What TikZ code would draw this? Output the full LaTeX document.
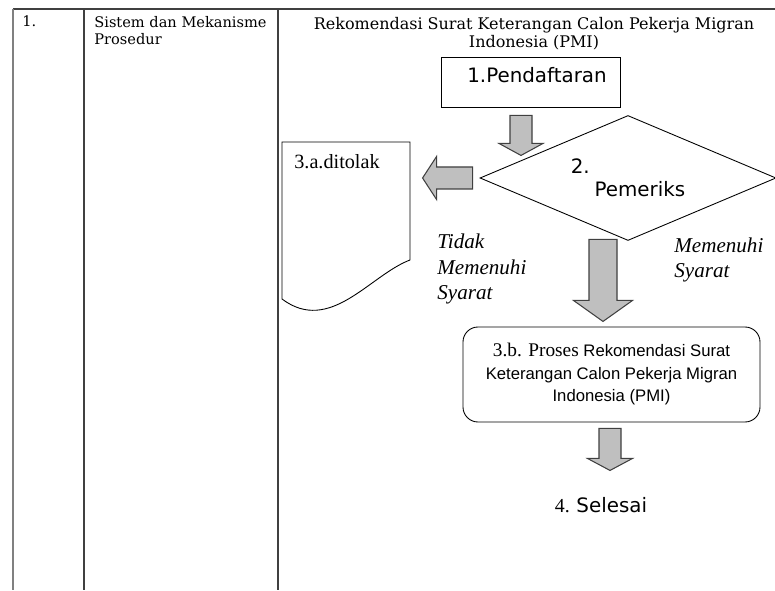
\documentclass[tikz,border=0pt]{standalone}
\usepackage{fontspec}
\newfontfamily\bookfont{DejaVu Serif}
\newfontfamily\dvsans{DejaVu Sans}
\newfontfamily\arialfont{Liberation Sans}
\newfontfamily\timesfont{Liberation Serif}
\usetikzlibrary{shapes.geometric}

\begin{document}
\begin{tikzpicture}[
    tableline/.style={draw=black!75, line width=0.8pt},
    blockarrow/.style={draw=black!75, fill=black!25, line width=0.6pt},
    proc/.style={rectangle, draw=black, line width=0.5pt}
]
	\pgfmathsetmacro{\xone}{0.26}
	\pgfmathsetmacro{\xtwo}{1.68}
	\pgfmathsetmacro{\xthree}{5.56}
	\pgfmathsetmacro{\ytop}{11.62}

    \useasboundingbox (0,0) rectangle (15.5,11.8);

    %table lines
    \draw[tableline] (\xone,\ytop)--(15.5,\ytop);
    \draw[tableline, draw=black!50] (\xone,\ytop)--(\xone,0);
    \draw[tableline] (\xtwo,\ytop)--(\xtwo,0);
    \draw[tableline] (\xthree,\ytop)--(\xthree,0);

    \node[anchor=west, inner sep=0, font=\bookfont\fontsize{8.3}{9.6}\selectfont] (nomor) at (\xone+0.18,11.37) {1.};
    \node[anchor=west, inner sep=0, align=left, font=\bookfont\fontsize{8.3}{9.6}\selectfont] (sistem) at (\xtwo+0.2,11.18) {Sistem dan Mekanisme\\Prosedur};
    \node[inner sep=0, align=center, font=\bookfont\fontsize{9.1}{10.4}\selectfont] (judul) at (10.68,11.13) {Rekomendasi Surat Keterangan Calon Pekerja Migran\\Indonesia (PMI)};

    %flow nodes
    \node[proc, minimum width=3.58cm, minimum height=1cm, text depth=0.3cm, font=\dvsans\fontsize{11.3}{13}\selectfont] (daftar) at (10.61,10.16) {\hspace*{0.26cm}1.Pendaftaran};

    \node[diamond, draw=black, line width=0.5pt, aspect=2.37, minimum width=5.92cm, minimum height=2.5cm, inner sep=0, align=left, font=\dvsans\fontsize{11.3}{13}\selectfont] (periksa) at (12.56,8.24) {2.\\\hspace*{1.2em}Pemeriks};

    \draw[line width=0.5pt] (8.2,6.6) -- (8.2,8.96) -- (5.64,8.96) -- (5.64,5.82) .. controls (6.6,5.1) and (7.4,6.3) .. (8.2,6.6) -- cycle;
    \node[anchor=west, inner sep=0, font=\timesfont\fontsize{11.5}{13}\selectfont] (tolak) at (5.88,8.56) {3.a.ditolak};

    \node[anchor=west, inner sep=0, align=left, font=\timesfont\itshape\fontsize{12}{14.5}\selectfont] (tidak) at (8.74,6.42) {Tidak\\Memenuhi\\Syarat};
    \node[anchor=west, inner sep=0, align=left, font=\timesfont\itshape\fontsize{12}{14.5}\selectfont] (memenuhi) at (13.48,6.6) {Memenuhi\\Syarat};

    \node[proc, rounded corners=0.3cm, minimum width=5.94cm, minimum height=1.9cm, align=center, font=\arialfont\fontsize{9.5}{12.8}\selectfont] (proses) at (12.23,4.31) {{\timesfont\fontsize{11}{12.8}\selectfont 3.b. Proses} Rekomendasi Surat\\Keterangan Calon Pekerja Migran\\Indonesia (PMI)};

    \node[inner sep=0, font=\timesfont\fontsize{11.3}{13}\selectfont] (selesai) at (12.02,1.7) {4. {\dvsans Selesai}};

    %block arrows
    \draw[blockarrow, shift={(daftar.south)}, xshift=-0.19cm, yshift=-0.16cm] (-0.22,0)--(0.22,0)--(0.22,-0.56)--(0.44,-0.56)--(0,-0.8)--(-0.44,-0.56)--(-0.22,-0.56)--cycle;
    \draw[blockarrow, shift={(periksa.west)}, xshift=-0.14cm] (0,0.22)--(0,-0.22)--(-0.72,-0.22)--(-0.72,-0.43)--(-1,0)--(-0.72,0.43)--(-0.72,0.22)--cycle;
    \draw[blockarrow, shift={(periksa.south)}, xshift=-0.5cm, yshift=0.03cm] (-0.28,0)--(0.28,0)--(0.28,-1.22)--(0.59,-1.22)--(0,-1.64)--(-0.59,-1.22)--(-0.28,-1.22)--cycle;
    \draw[blockarrow, shift={(proses.south)}, xshift=-0.03cm, yshift=-0.12cm] (-0.22,0)--(0.22,0)--(0.22,-0.6)--(0.45,-0.6)--(0,-0.84)--(-0.45,-0.6)--(-0.22,-0.6)--cycle;

\end{tikzpicture}
\end{document}
